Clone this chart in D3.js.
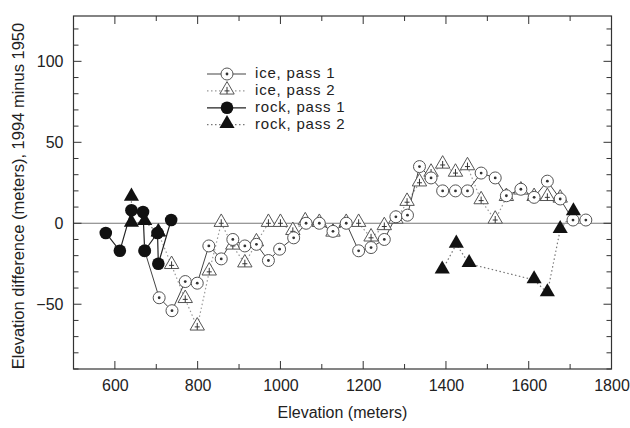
<!DOCTYPE html>
<html><head><meta charset="utf-8">
<script src="https://cdn.jsdelivr.net/npm/d3@7"></script>
<style>body{margin:0;background:#fff}svg{display:block}text{font-family:"Liberation Sans",Arial,sans-serif;fill:#222}</style>
</head><body><svg id="c" width="630" height="428"></svg>
<script>
const icePass1 = [[672,-17],[707,-46],[738,-54],[770,-36],[799,-37],[827,-14],[857,-22],[885,-10],[914,-14],[942,-13],[971,-23],[998,-16],[1032,-9],[1062,0],[1094,0],[1127,-5],[1159,0],[1189,-17],[1219,-15],[1251,-10],[1279,4],[1307,5],[1336,35],[1364,28],[1392,20],[1423,20],[1452,20],[1485,31],[1519,28],[1546,17],[1581,21],[1613,16],[1645,26],[1676,15],[1707,2],[1738,2]];
const icePass2 = [[705,-6],[737,-26],[770,-47],[799,-64],[828,-30],[857,0],[885,-14],[914,-25],[942,-12],[971,0],[1000,0],[1030,-5],[1060,1],[1094,0],[1127,-6],[1159,0],[1189,0],[1219,-9],[1251,-2],[1279,2],[1306,13],[1336,25],[1364,31],[1392,36],[1423,31],[1452,35],[1485,14],[1519,2],[1546,16],[1581,20],[1613,16],[1645,16],[1676,15]];
const rockPass1 = [[578,-6],[612,-17],[640,8],[668,7],[672,-17],[703,-6],[705,-25],[736,2]];
const rockPass2 = [[640,16],[640,0],[672,1],[705,-6],null,[1391,-29],[1425,-13],[1456,-25],[1613,-35],[1645,-43],[1676,-4],[1708,7]];
const xTicks = [600,800,1000,1200,1400,1600,1800];
const yTicks = [-50,0,50,100];
const legendLabels = ["ice, pass 1","ice, pass 2","rock, pass 1","rock, pass 2"];

const svg = d3.select("#c");
const L=73.5,R=611.5,T=16,B=369;
const x = d3.scaleLinear().domain([500,1800]).range([L,R]);
const y = d3.scaleLinear().domain([-90,128]).range([B,T]);

svg.append("line").attr("x1",L).attr("x2",R).attr("y1",y(0)).attr("y2",y(0)).attr("stroke","#777").attr("stroke-width",1.2);
svg.append("rect").attr("x",L).attr("y",T).attr("width",R-L).attr("height",B-T).attr("fill","none").attr("stroke","#333").attr("stroke-width",1.2);

const xMinor = d3.range(500,1801,100);
const yMinor = d3.range(-90,128,10);
const g = svg.append("g").attr("stroke","#333").attr("stroke-width",1);
xMinor.forEach(v=>{const len = xTicks.includes(v)?8:5;
  g.append("line").attr("x1",x(v)).attr("x2",x(v)).attr("y1",B).attr("y2",B-len);
  g.append("line").attr("x1",x(v)).attr("x2",x(v)).attr("y1",T).attr("y2",T+len);});
yMinor.forEach(v=>{const len = yTicks.includes(v)?8:5;
  g.append("line").attr("x1",L).attr("x2",L+len).attr("y1",y(v)).attr("y2",y(v));
  g.append("line").attr("x1",R).attr("x2",R-len).attr("y1",y(v)).attr("y2",y(v));});

const xa = svg.append("g").attr("transform",`translate(0,${B})`).call(d3.axisBottom(x).tickValues(xTicks).tickFormat(d3.format("d")).tickSize(0).tickPadding(11));
const ya = svg.append("g").attr("transform",`translate(${L},0)`).call(d3.axisLeft(y).tickValues(yTicks).tickFormat(d3.format("d")).tickSize(0).tickPadding(10));
[xa,ya].forEach(a=>{a.select(".domain").remove();a.selectAll("text").attr("font-size",16).attr("font-family","Liberation Sans, Arial, sans-serif").attr("fill","#222");});

svg.append("text").attr("x",(L+R)/2).attr("y",418).attr("text-anchor","middle").attr("font-size",16).text("Elevation (meters)");
svg.append("text").attr("transform",`translate(20,196) rotate(-90)`).attr("text-anchor","middle").attr("dominant-baseline","middle").attr("font-size",16.5).text("Elevation difference (meters), 1994 minus 1950");

const line = d3.line().defined(d=>d!==null).x(d=>x(d[0])).y(d=>y(d[1]));
const tri = d3.symbol().type(d3.symbolTriangle).size(90);

function drawIce1(sel){sel.append("circle").attr("r",6).attr("fill","#fff").attr("stroke","#555").attr("stroke-width",1);
  sel.append("circle").attr("r",1.4).attr("fill","#333");}
function drawIce2(sel){sel.append("path").attr("d",tri).attr("transform","translate(0,-1)").attr("fill","#fff").attr("stroke","#555").attr("stroke-width",1);
  sel.append("path").attr("d","M0,-4V3M-2.5,0H2.5").attr("stroke","#333").attr("stroke-width",1);}
function drawRock1(sel){sel.append("circle").attr("r",6.3).attr("fill","#111");}
function drawRock2(sel){sel.append("path").attr("d",tri).attr("transform","translate(0,-1) scale(1.05)").attr("fill","#111");}

svg.append("path").datum(icePass2).attr("d",line).attr("fill","none").attr("stroke","#999").attr("stroke-width",1.2).attr("stroke-dasharray","1.5,2.5");
svg.append("path").datum(icePass1).attr("d",line).attr("fill","none").attr("stroke","#444").attr("stroke-width",1);
svg.append("path").datum(rockPass2).attr("d",line).attr("fill","none").attr("stroke","#777").attr("stroke-width",1.2).attr("stroke-dasharray","1.5,2.5");
svg.append("path").datum(rockPass1).attr("d",line).attr("fill","none").attr("stroke","#222").attr("stroke-width",1.2);

function pts(data,fn){svg.append("g").selectAll("g").data(data.filter(d=>d)).join("g")
  .attr("transform",d=>`translate(${x(d[0])},${y(d[1])})`).each(function(){fn(d3.select(this));});}
pts(icePass2,drawIce2);
pts(icePass1,drawIce1);
pts(rockPass1,drawRock1);
pts(rockPass2,drawRock2);

const lg = svg.append("g");
const drawers=[drawIce1,drawIce2,drawRock1,drawRock2];
const styles=[{s:"#444",d:null},{s:"#999",d:"1.5,2.5"},{s:"#222",d:null},{s:"#777",d:"1.5,2.5"}];
legendLabels.forEach((lab,i)=>{const yy=74+i*16.9;
  lg.append("line").attr("x1",207).attr("x2",246).attr("y1",yy).attr("y2",yy).attr("stroke",styles[i].s).attr("stroke-width",1.2).attr("stroke-dasharray",styles[i].d);
  const m=lg.append("g").attr("transform",`translate(227,${yy})`); drawers[i](m);
  lg.append("text").attr("x",255).attr("y",yy).attr("dominant-baseline","middle").attr("font-size",15).attr("letter-spacing",0.8).text(lab);});
</script></body></html>
